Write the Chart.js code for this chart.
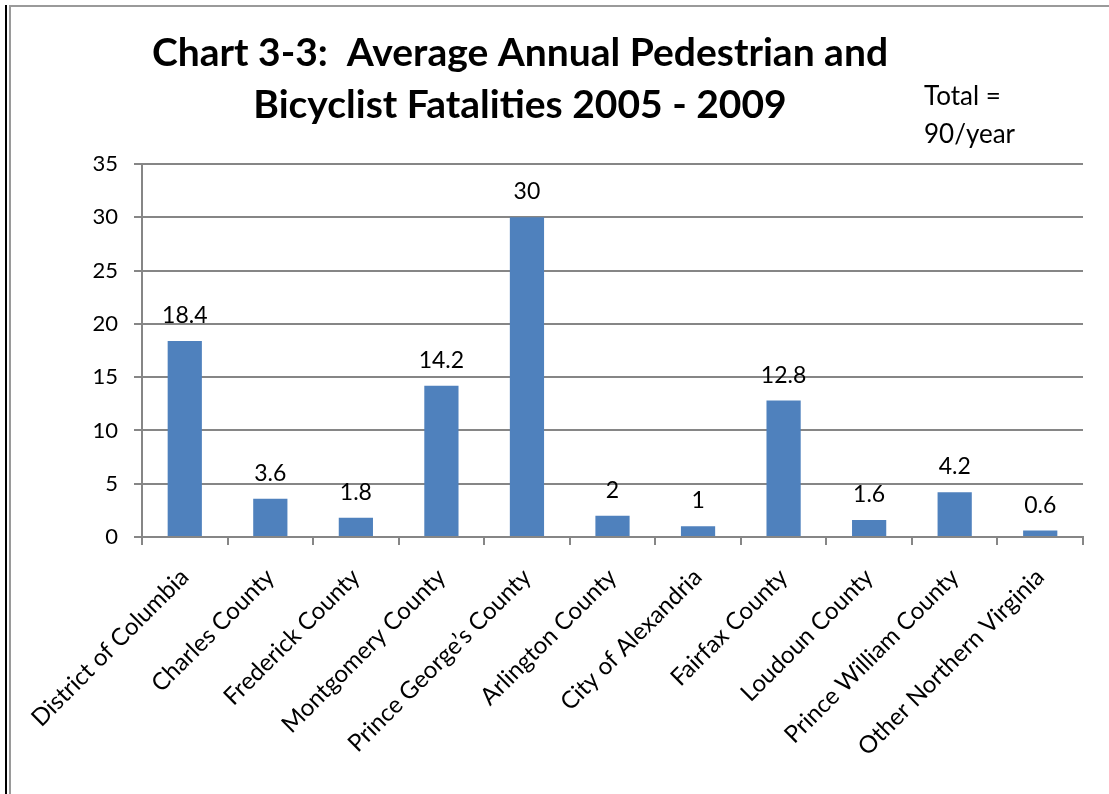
<!DOCTYPE html>
<html>
<head>
<meta charset="utf-8">
<script src="https://cdn.jsdelivr.net/npm/chart.js@4/dist/chart.umd.min.js"></script>
<style>
  html, body { margin: 0; padding: 0; background: #fff; }
  #wrap { position: relative; width: 1109px; height: 794px; }
  canvas { display: block; }
</style>
</head>
<body>
<div id="wrap"><canvas id="c" width="1109" height="794"></canvas></div>
<script>
const categories = [
  "District of Columbia", "Charles County", "Frederick County", "Montgomery County",
  "Prince George\u2019s County", "Arlington County", "City of Alexandria", "Fairfax County",
  "Loudoun County", "Prince William County", "Other Northern Virginia"
];
const fatalities = [18.4, 3.6, 1.8, 14.2, 30, 2, 1, 12.8, 1.6, 4.2, 0.6];
const titleLines = ["Chart 3-3:  Average Annual Pedestrian and", "Bicyclist Fatalities 2005 - 2009"];
const noteLines = ["Total =", "90/year"];

const FONT = "Lato, 'Open Sans', sans-serif";
const GRID = "#868686";

// page frame, title, note and value labels
const decor = {
  id: "decor",
  beforeDraw(chart) {
    const ctx = chart.ctx;
    ctx.save();
    ctx.fillStyle = "#fff";
    ctx.fillRect(0, 0, chart.width, chart.height);
    ctx.fillStyle = "#000";
    ctx.fillRect(5, 5, 2, chart.height - 5);
    ctx.fillStyle = "#9a9a9a";
    ctx.fillRect(9, 5, 2, chart.height - 5);
    ctx.fillRect(9, 5, chart.width - 9, 2);
    ctx.restore();
  },
  afterDraw(chart) {
    const ctx = chart.ctx;
    ctx.save();
    ctx.fillStyle = "#000";
    ctx.textAlign = "center";
    ctx.textBaseline = "alphabetic";
    ctx.font = "bold 39px " + FONT;
    ctx.fillText(titleLines[0], 520, 66);
    ctx.fillText(titleLines[1], 520, 118);
    ctx.textAlign = "left";
    ctx.font = "26px " + FONT;
    ctx.fillText(noteLines[0], 924, 105);
    ctx.fillText(noteLines[1], 924, 143);
    const meta = chart.getDatasetMeta(0);
    ctx.textAlign = "center";
    ctx.font = "23px " + FONT;
    meta.data.forEach((bar, i) => {
      ctx.fillText(String(fatalities[i]), bar.x, bar.y - 18);
    });
    ctx.restore();
  }
};

new Chart(document.getElementById("c"), {
  type: "bar",
  data: {
    labels: categories,
    datasets: [{
      data: fatalities,
      backgroundColor: "#4F81BD",
      borderWidth: 0,
      barPercentage: 0.4,
      categoryPercentage: 1
    }]
  },
  options: {
    responsive: false,
    animation: false,
    events: [],
    layout: { padding: { top: 164, right: 26, left: 0, bottom: 0 } },
    plugins: { legend: { display: false }, title: { display: false }, tooltip: { enabled: false } },
    scales: {
      x: {
        offset: true,
        grid: { display: true, drawOnChartArea: false, drawTicks: true, tickLength: 8, color: GRID, lineWidth: 2, offset: true },
        border: { color: GRID, width: 2 },
        ticks: {
          autoSkip: false, maxRotation: 45, minRotation: 45,
          color: "#000", font: { family: FONT, size: 24 }, padding: 18
        },
        afterFit(scale) { scale.height = 794 - 537; }
      },
      y: {
        min: 0, max: 35,
        ticks: { stepSize: 5, color: "#000", font: { family: FONT, size: 22 }, padding: 16 },
        grid: { color: GRID, lineWidth: 2, tickLength: 8, drawTicks: true },
        border: { color: GRID, width: 2 },
        afterFit(scale) { scale.width = 142; }
      }
    }
  },
  plugins: [decor]
});
</script>
</body>
</html>
